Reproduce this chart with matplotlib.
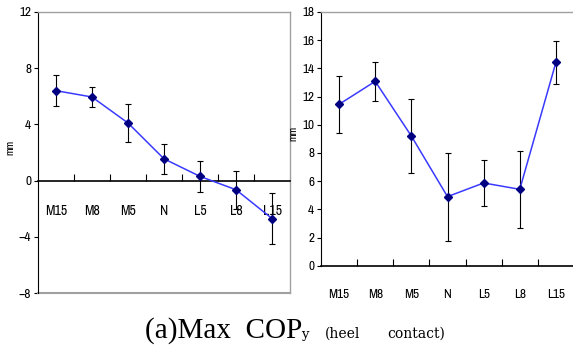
import matplotlib
matplotlib.use('Agg')
import matplotlib.pyplot as plt

cats = ['M15', 'M8', 'M5', 'N', 'L5', 'L8', 'L15']
left_mean = [6.4, 5.95, 4.1, 1.55, 0.3, -0.65, -2.7]
left_err = [1.1, 0.72, 1.35, 1.05, 1.1, 1.35, 1.8]
right_mean = [11.45, 13.08, 9.2, 4.9, 5.87, 5.42, 14.43]
right_err = [2.0, 1.36, 2.6, 3.12, 1.66, 2.73, 1.52]

left_yticks = [-8, -4, 0, 4, 8, 12]
right_yticks = [0, 2, 4, 6, 8, 10, 12, 14, 16, 18]

plt.rcParams['font.family'] = ['Archivo Narrow', 'DejaVu Sans']

fig = plt.figure(figsize=(5.73, 3.48), dpi=100)
ax1 = fig.add_axes([38/573, 55/348, 252/573, 281/348])
ax2 = fig.add_axes([321/573, 82.3/348, 253/573, 253.7/348])

x = list(range(1, len(cats) + 1))
gray = '#a0a0a0'


def draw(ax, mean, err):
    ax.errorbar(x, mean, yerr=err, fmt='none', ecolor='black', elinewidth=0.8,
                capsize=2, capthick=0.8, zorder=2)
    ax.plot(x, mean, color='#3a3aff', lw=1.1, zorder=3)
    ax.plot(x, mean, 'D', color='#000080', ms=4.3, zorder=4)
    ax.set_xlim(0.5, 7.5)
    ax.set_xticks(x)
    ax.set_xticklabels(cats, fontsize=9.5)
    ax.set_xticks([i + 0.5 for i in range(1, 7)], minor=True)
    ax.tick_params(axis='x', which='major', length=0, pad=17)
    ax.tick_params(axis='x', which='minor', direction='in', length=5, width=0.8)
    ax.tick_params(axis='y', direction='out', length=3, width=0.8, labelsize=9.5, pad=2)
    ax.spines['left'].set_color('black')
    ax.spines['bottom'].set_color('black')
    ax.spines['bottom'].set_linewidth(1.2)
    for s in ['top', 'right']:
        ax.spines[s].set_color(gray)
        ax.spines[s].set_linewidth(1.0)
    ax.set_ylabel('mm', fontsize=8, labelpad=4)


draw(ax1, left_mean, left_err)
ax1.set_ylim(-8, 12)
ax1.set_yticks(left_yticks)
ax1.spines['bottom'].set_position(('data', 0))
ax1.axhline(-8, color=gray, lw=1.5, clip_on=False)
ax1.yaxis.set_label_coords(-0.09, 0.52)

draw(ax2, right_mean, right_err)
ax2.set_ylim(0, 18)
ax2.set_yticks(right_yticks)
ax2.yaxis.set_label_coords(-0.09, 0.52)

fig.text(145/573, 10/348, '(a)Max  COP', fontsize=21, family='Liberation Serif',
         ha='left', va='baseline')
fig.text(301/573, 10/348, 'y', fontsize=9.5, family='DejaVu Serif',
         ha='left', va='baseline')
fig.text(325/573, 10/348, '(heel', fontsize=10, family='DejaVu Serif',
         ha='left', va='baseline')
fig.text(445/573, 10/348, 'contact)', fontsize=10, family='DejaVu Serif',
         ha='right', va='baseline')

fig.savefig('out.png', dpi=100)
